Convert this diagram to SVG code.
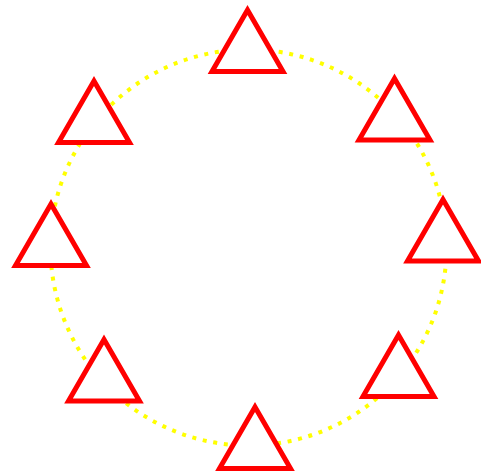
<svg xmlns="http://www.w3.org/2000/svg" width="481" height="476" viewBox="0 0 481 476">
  <style>
    .ring { fill: none; stroke: #ffff00; stroke-width: 4; stroke-dasharray: 4 6.7; }
    .tri { fill: #ffffff; stroke: #ff0000; stroke-width: 5; stroke-linejoin: miter; }
  </style>
  <defs>
    <path id="triangle" d="M0,-41 L35.5,20.5 L-35.5,20.5 Z"/>
  </defs>
  <rect width="481" height="476" fill="#ffffff"/>
  <g id="connectors">
    <circle class="ring" cx="248.5" cy="247.5" r="198"/>
  </g>
  <g id="node-1"><use href="#triangle" class="tri" x="247.5" y="51"/></g>
  <g id="node-2"><use href="#triangle" class="tri" x="394.5" y="119.5"/></g>
  <g id="node-3"><use href="#triangle" class="tri" x="443" y="240.5"/></g>
  <g id="node-4"><use href="#triangle" class="tri" x="398.5" y="376"/></g>
  <g id="node-5"><use href="#triangle" class="tri" x="255" y="448"/></g>
  <g id="node-6"><use href="#triangle" class="tri" x="104" y="380.5"/></g>
  <g id="node-7"><use href="#triangle" class="tri" x="51" y="245"/></g>
  <g id="node-8"><use href="#triangle" class="tri" x="94" y="122"/></g>
</svg>
